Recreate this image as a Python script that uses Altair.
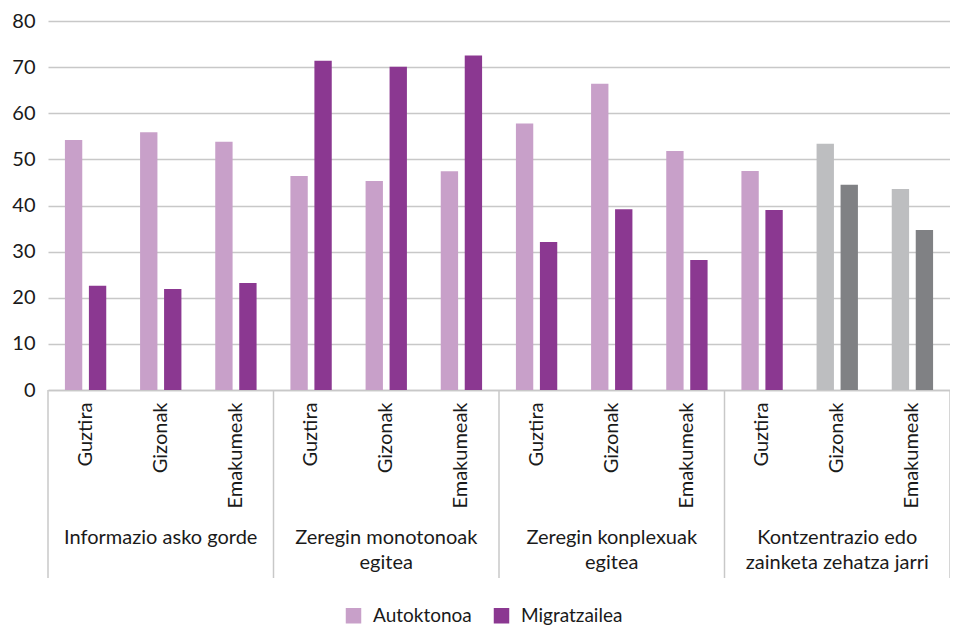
import altair as alt
import pandas as pd

groups = ["Informazio asko gorde", "Zeregin monotonoak\negitea",
          "Zeregin konplexuak\negitea", "Kontzentrazio edo\nzainketa zehatza jarri"]
subs = ["Guztira", "Gizonak", "Emakumeak"]
series = ["Autoktonoa", "Migratzailea"]
autoktonoa = [54.2, 55.9, 53.8, 46.4, 45.3, 47.4, 57.8, 66.4, 51.8, 47.5, 53.4, 43.6]
migratzailea = [22.6, 21.9, 23.2, 71.4, 70.1, 72.5, 32.1, 39.2, 28.2, 39.0, 44.5, 34.7]
grey_positions = [10, 11]

FONT = "Lato"
W, H = 902, 369

rows = []
keys = []
for gi, g in enumerate(groups):
    for si, s in enumerate(subs):
        idx = gi * 3 + si
        key = f"{idx:02d}|{s}"
        keys.append(key)
        for ser, vals in zip(series, [autoktonoa, migratzailea]):
            ckey = ser + (" (grey)" if idx in grey_positions else "")
            rows.append({"key": key, "series": ser, "value": vals[idx], "ckey": ckey})
df = pd.DataFrame(rows)

color_domain = ["Autoktonoa", "Migratzailea", "Autoktonoa (grey)", "Migratzailea (grey)"]
color_range = ["#c8a0c9", "#8b3891", "#bdbec0", "#808184"]

xscale = alt.Scale(domain=keys, paddingInner=0, paddingOuter=0)

bars = alt.Chart(df).mark_bar().encode(
    x=alt.X("key:N", scale=xscale, sort=keys, title=None,
            axis=alt.Axis(labelAngle=-90, labelExpr="split(datum.value,'|')[1]",
                          ticks=False, labelPadding=12, labelFontSize=20,
                          labelFont=FONT, labelColor="#1a1a1a", domainColor="#c8c8c8",
                          domainWidth=1.5, grid=False, labelBaseline="middle", labelAlign="right")),
    xOffset=alt.XOffset("series:N", sort=series,
                        scale=alt.Scale(domain=series, paddingInner=0.277, paddingOuter=0.705)),
    y=alt.Y("value:Q", scale=alt.Scale(domain=[0, 80]), title=None,
            axis=alt.Axis(values=list(range(0, 81, 10)), ticks=False, domain=False,
                          labelPadding=13, labelFontSize=20, labelFont=FONT,
                          labelColor="#1a1a1a", gridColor="#c8c8c8", gridWidth=1.3)),
    color=alt.Color("ckey:N", scale=alt.Scale(domain=color_domain, range=color_range),
                    legend=alt.Legend(values=series, title=None, orient="none",
                                      direction="horizontal", legendX=296, legendY=585,
                                      symbolType="square", symbolSize=240,
                                      symbolStrokeWidth=0, labelFont=FONT,
                                      labelFontSize=19, labelColor="#1a1a1a",
                                      labelOffset=10, columnPadding=20)),
)

sep_left = pd.DataFrame({"key": [keys[0], keys[3], keys[6], keys[9]]})
sep_right = pd.DataFrame({"key": [keys[11]]})
rule_left = alt.Chart(sep_left).mark_rule(color="#c8c8c8", strokeWidth=1.5).encode(
    x=alt.X("key:N", scale=xscale, sort=keys, bandPosition=0),
    y=alt.value(H), y2=alt.value(H + 188))
rule_right = alt.Chart(sep_right).mark_rule(color="#c8c8c8", strokeWidth=1.5).encode(
    x=alt.X("key:N", scale=xscale, sort=keys, bandPosition=1),
    y=alt.value(H), y2=alt.value(H + 188))

glab = pd.DataFrame({"key": [keys[1], keys[4], keys[7], keys[10]], "label": groups})
glab["lines"] = glab["label"].str.split("\n")
labels = alt.Chart(glab).mark_text(font=FONT, fontSize=20, color="#1a1a1a",
                                   baseline="top", align="center", lineHeight=25).encode(
    x=alt.X("key:N", scale=xscale, sort=keys, bandPosition=0.5),
    y=alt.value(H + 138),
    text="lines")

chart = alt.layer(bars, rule_left, rule_right, labels).properties(
    width=W, height=H,
    autosize=alt.AutoSizeParams(type="none"),
    padding={"left": 40, "top": 13, "right": 0, "bottom": 238},
).configure_view(stroke=None).configure_axis(labelFont=FONT)

chart.save("out.html", embed_options={"renderer": "svg", "actions": False})
